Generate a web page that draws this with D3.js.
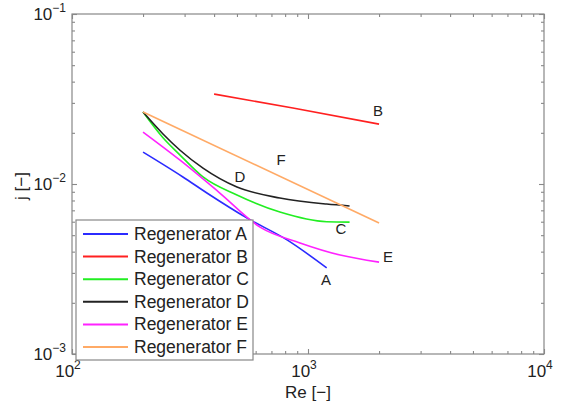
<!DOCTYPE html>
<html><head><meta charset="utf-8">
<script src="https://cdn.jsdelivr.net/npm/d3@7"></script>
<style>
body{margin:0;background:#fff;}
svg{display:block;font-family:"Liberation Sans",Arial,sans-serif;}
</style></head><body>
<svg id="chart" width="569" height="406"></svg>
<script>
const seriesNames = ["Regenerator A","Regenerator B","Regenerator C","Regenerator D","Regenerator E","Regenerator F"];
const seriesColors = ["#2b2bff","#ff2020","#22ee22","#222222","#ff22ff","#ffaa66"];
const seriesLabels = ["A","B","C","D","E","F"];
const reA = [200, 295, 373, 552, 815, 1200];
const jA  = [0.0154, 0.0110, 0.00885, 0.0063, 0.00469, 0.00321];
const reB = [400, 863, 2000];
const jB  = [0.0338, 0.0280, 0.0225];
const reC = [200, 243, 287, 359, 500, 760, 1200, 1500];
const jC  = [0.0265, 0.0187, 0.0148, 0.0110, 0.00861, 0.00684, 0.00600, 0.00597];
const reD = [200, 243, 287, 359, 500, 760, 1200, 1500];
const jD  = [0.0265, 0.0197, 0.0158, 0.0124, 0.00960, 0.00827, 0.00762, 0.00743];
const reE = [200, 287, 423, 626, 925, 1368, 2000];
const jE  = [0.0202, 0.0138, 0.00885, 0.00558, 0.0045, 0.00382, 0.00347];
const reF = [200, 2000];
const jF  = [0.0265, 0.0059];
const labelRe = [1192, 1982, 1380, 515, 2183, 769];
const labelJ  = [0.00272, 0.0268, 0.00543, 0.0110, 0.00373, 0.01384];
const xTickValues = [100, 1000, 10000];
const xTickExp = ["2","3","4"];
const yTickValues = [0.001, 0.01, 0.1];
const yTickExp = ["\u22123","\u22122","\u22121"];

const svg = d3.select("#chart");
const x = d3.scaleLog().domain([100, 10000]).range([72, 544]);
const y = d3.scaleLog().domain([0.001, 0.1]).range([354, 14]);
const axisColor = "#888";

const allRe = [reA, reB, reC, reD, reE, reF];
const allJ = [jA, jB, jC, jD, jE, jF];

svg.append("rect").attr("x", 72).attr("y", 14).attr("width", 472).attr("height", 340)
  .attr("fill", "none").attr("stroke", axisColor).attr("stroke-width", 1.2);

const minorX = x.ticks().filter(v => !xTickValues.includes(v));
const minorY = y.ticks().filter(v => !yTickValues.some(t => Math.abs(t - v) < 1e-12));

function styleAxis(g){ g.select(".domain").remove(); g.selectAll("line").attr("stroke", axisColor).attr("stroke-width", 1.1); g.selectAll("text").remove(); }
svg.append("g").attr("transform","translate(0,354)").call(d3.axisBottom(x).tickValues(minorX).tickSize(-3)).call(styleAxis);
svg.append("g").attr("transform","translate(0,354)").call(d3.axisBottom(x).tickValues(xTickValues).tickSize(-5)).call(styleAxis);
svg.append("g").attr("transform","translate(0,14)").call(d3.axisTop(x).tickValues(minorX).tickSize(-3)).call(styleAxis);
svg.append("g").attr("transform","translate(0,14)").call(d3.axisTop(x).tickValues(xTickValues).tickSize(-5)).call(styleAxis);
svg.append("g").attr("transform","translate(72,0)").call(d3.axisLeft(y).tickValues(minorY).tickSize(-3)).call(styleAxis);
svg.append("g").attr("transform","translate(72,0)").call(d3.axisLeft(y).tickValues(yTickValues).tickSize(-5)).call(styleAxis);
svg.append("g").attr("transform","translate(544,0)").call(d3.axisRight(y).tickValues(minorY).tickSize(-3)).call(styleAxis);
svg.append("g").attr("transform","translate(544,0)").call(d3.axisRight(y).tickValues(yTickValues).tickSize(-5)).call(styleAxis);

const txtColor = "#222";
xTickValues.forEach((v, i) => {
  const t = svg.append("text").attr("x", x(v) - 4).attr("y", 377).attr("text-anchor","middle")
    .attr("font-size", 17).attr("fill", txtColor);
  t.append("tspan").text("10");
  t.append("tspan").attr("font-size", 12).attr("dy", -8).text(xTickExp[i]);
});
yTickValues.forEach((v, i) => {
  const t = svg.append("text").attr("x", 66).attr("y", y(v) + 6).attr("text-anchor","end")
    .attr("font-size", 17).attr("fill", txtColor);
  t.append("tspan").text("10");
  t.append("tspan").attr("font-size", 12).attr("dy", -8).text(yTickExp[i]);
});

svg.append("text").attr("x", 308).attr("y", 398).attr("text-anchor","middle")
  .attr("font-size", 17).attr("fill", txtColor).text("Re [\u2212]");
svg.append("text").attr("transform","translate(27,186) rotate(-90)").attr("text-anchor","middle")
  .attr("font-size", 17).attr("fill", txtColor).text("j [\u2212]");

const line = d3.line().curve(d3.curveMonotoneX).x(d => x(d[0])).y(d => y(d[1]));
const plot = svg.append("g");
allRe.forEach((re, i) => {
  const pts = re.map((r, k) => [r, allJ[i][k]]);
  plot.append("path").datum(pts).attr("d", line).attr("fill","none")
    .attr("stroke", seriesColors[i]).attr("stroke-width", 1.6);
});

seriesLabels.forEach((s, i) => {
  svg.append("text").attr("x", x(labelRe[i])).attr("y", y(labelJ[i]) + 5)
    .attr("text-anchor","middle").attr("font-size", 15).attr("fill", txtColor).text(s);
});

const lg = svg.append("g");
lg.append("rect").attr("x", 76).attr("y", 220).attr("width", 177).attr("height", 140)
  .attr("fill","#fff").attr("stroke", axisColor).attr("stroke-width", 1.2);
seriesNames.forEach((n, i) => {
  const yy = 234 + i * 22.6;
  lg.append("line").attr("x1", 83).attr("x2", 128).attr("y1", yy).attr("y2", yy)
    .attr("stroke", seriesColors[i]).attr("stroke-width", 2);
  lg.append("text").attr("x", 134).attr("y", yy + 6).attr("font-size", 17.5)
    .attr("fill", txtColor).text(n);
});
</script>
</body></html>
